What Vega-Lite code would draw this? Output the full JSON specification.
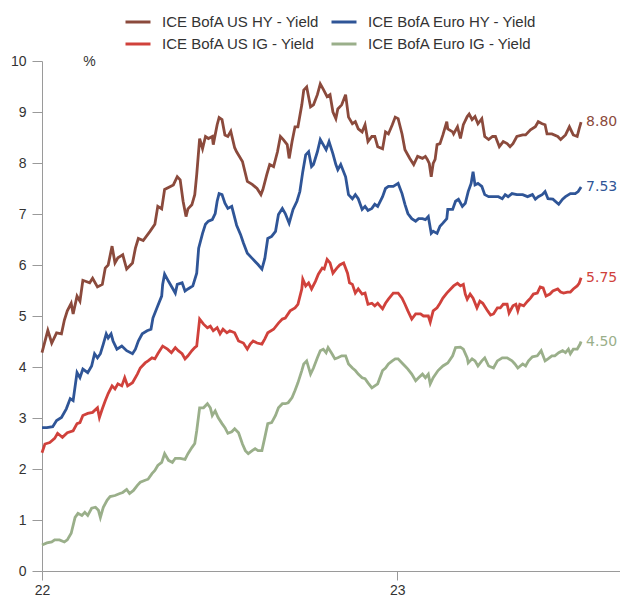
{
"$schema": "https://vega.github.io/schema/vega-lite/v6.json",
"width": 578, "height": 510,
"autosize": {"type": "none"},
"padding": {"left": 42, "top": 61, "right": 0, "bottom": 26},
"background": "white",
"config": {"view": {"stroke": null}, "font": "Liberation Sans"},
"data": {"values": [
{"s":"US HY","d":"2022-01-01","v":4.28},{"s":"US HY","d":"2022-01-07","v":4.72},{"s":"US HY","d":"2022-01-11","v":4.47},{"s":"US HY","d":"2022-01-16","v":4.67},{"s":"US HY","d":"2022-01-21","v":4.65},{"s":"US HY","d":"2022-01-24","v":4.92},{"s":"US HY","d":"2022-01-27","v":5.1},{"s":"US HY","d":"2022-01-31","v":5.25},{"s":"US HY","d":"2022-02-02","v":5.04},{"s":"US HY","d":"2022-02-06","v":5.39},{"s":"US HY","d":"2022-02-09","v":5.29},{"s":"US HY","d":"2022-02-12","v":5.7},{"s":"US HY","d":"2022-02-19","v":5.65},{"s":"US HY","d":"2022-02-22","v":5.74},{"s":"US HY","d":"2022-02-27","v":5.57},{"s":"US HY","d":"2022-03-04","v":5.62},{"s":"US HY","d":"2022-03-07","v":5.94},{"s":"US HY","d":"2022-03-10","v":6.0},{"s":"US HY","d":"2022-03-14","v":6.37},{"s":"US HY","d":"2022-03-17","v":6.04},{"s":"US HY","d":"2022-03-20","v":6.14},{"s":"US HY","d":"2022-03-25","v":6.2},{"s":"US HY","d":"2022-03-29","v":5.92},{"s":"US HY","d":"2022-04-04","v":6.04},{"s":"US HY","d":"2022-04-07","v":6.33},{"s":"US HY","d":"2022-04-10","v":6.52},{"s":"US HY","d":"2022-04-15","v":6.48},{"s":"US HY","d":"2022-04-22","v":6.66},{"s":"US HY","d":"2022-04-27","v":6.8},{"s":"US HY","d":"2022-04-30","v":7.15},{"s":"US HY","d":"2022-05-04","v":7.1},{"s":"US HY","d":"2022-05-07","v":7.48},{"s":"US HY","d":"2022-05-13","v":7.54},{"s":"US HY","d":"2022-05-16","v":7.57},{"s":"US HY","d":"2022-05-20","v":7.73},{"s":"US HY","d":"2022-05-23","v":7.67},{"s":"US HY","d":"2022-05-26","v":7.25},{"s":"US HY","d":"2022-05-29","v":6.95},{"s":"US HY","d":"2022-05-31","v":7.1},{"s":"US HY","d":"2022-06-04","v":7.18},{"s":"US HY","d":"2022-06-07","v":7.38},{"s":"US HY","d":"2022-06-09","v":7.77},{"s":"US HY","d":"2022-06-12","v":8.48},{"s":"US HY","d":"2022-06-15","v":8.28},{"s":"US HY","d":"2022-06-18","v":8.52},{"s":"US HY","d":"2022-06-21","v":8.48},{"s":"US HY","d":"2022-06-25","v":8.52},{"s":"US HY","d":"2022-06-26","v":8.36},{"s":"US HY","d":"2022-06-30","v":8.75},{"s":"US HY","d":"2022-07-02","v":8.89},{"s":"US HY","d":"2022-07-05","v":8.85},{"s":"US HY","d":"2022-07-08","v":8.55},{"s":"US HY","d":"2022-07-11","v":8.52},{"s":"US HY","d":"2022-07-14","v":8.62},{"s":"US HY","d":"2022-07-18","v":8.3},{"s":"US HY","d":"2022-07-20","v":8.22},{"s":"US HY","d":"2022-07-26","v":8.03},{"s":"US HY","d":"2022-07-31","v":7.64},{"s":"US HY","d":"2022-08-05","v":7.58},{"s":"US HY","d":"2022-08-10","v":7.5},{"s":"US HY","d":"2022-08-14","v":7.38},{"s":"US HY","d":"2022-08-16","v":7.48},{"s":"US HY","d":"2022-08-20","v":7.77},{"s":"US HY","d":"2022-08-23","v":7.97},{"s":"US HY","d":"2022-08-27","v":7.93},{"s":"US HY","d":"2022-08-31","v":8.22},{"s":"US HY","d":"2022-09-03","v":8.52},{"s":"US HY","d":"2022-09-06","v":8.46},{"s":"US HY","d":"2022-09-10","v":8.36},{"s":"US HY","d":"2022-09-12","v":8.09},{"s":"US HY","d":"2022-09-15","v":8.42},{"s":"US HY","d":"2022-09-18","v":8.71},{"s":"US HY","d":"2022-09-21","v":8.71},{"s":"US HY","d":"2022-09-25","v":9.14},{"s":"US HY","d":"2022-09-27","v":9.43},{"s":"US HY","d":"2022-09-30","v":9.49},{"s":"US HY","d":"2022-10-04","v":9.1},{"s":"US HY","d":"2022-10-07","v":9.14},{"s":"US HY","d":"2022-10-11","v":9.34},{"s":"US HY","d":"2022-10-14","v":9.55},{"s":"US HY","d":"2022-10-17","v":9.45},{"s":"US HY","d":"2022-10-21","v":9.3},{"s":"US HY","d":"2022-10-24","v":9.34},{"s":"US HY","d":"2022-10-27","v":9.0},{"s":"US HY","d":"2022-10-30","v":8.87},{"s":"US HY","d":"2022-11-01","v":9.06},{"s":"US HY","d":"2022-11-05","v":9.14},{"s":"US HY","d":"2022-11-09","v":9.34},{"s":"US HY","d":"2022-11-12","v":8.9},{"s":"US HY","d":"2022-11-16","v":8.77},{"s":"US HY","d":"2022-11-19","v":8.81},{"s":"US HY","d":"2022-11-22","v":8.67},{"s":"US HY","d":"2022-11-26","v":8.61},{"s":"US HY","d":"2022-11-29","v":8.75},{"s":"US HY","d":"2022-12-02","v":8.42},{"s":"US HY","d":"2022-12-06","v":8.52},{"s":"US HY","d":"2022-12-09","v":8.52},{"s":"US HY","d":"2022-12-12","v":8.32},{"s":"US HY","d":"2022-12-17","v":8.28},{"s":"US HY","d":"2022-12-20","v":8.61},{"s":"US HY","d":"2022-12-23","v":8.57},{"s":"US HY","d":"2022-12-27","v":8.75},{"s":"US HY","d":"2022-12-30","v":8.9},{"s":"US HY","d":"2023-01-02","v":8.87},{"s":"US HY","d":"2023-01-06","v":8.57},{"s":"US HY","d":"2023-01-09","v":8.26},{"s":"US HY","d":"2023-01-14","v":8.09},{"s":"US HY","d":"2023-01-18","v":7.97},{"s":"US HY","d":"2023-01-22","v":8.13},{"s":"US HY","d":"2023-01-27","v":8.09},{"s":"US HY","d":"2023-01-30","v":8.13},{"s":"US HY","d":"2023-02-01","v":8.07},{"s":"US HY","d":"2023-02-03","v":7.99},{"s":"US HY","d":"2023-02-05","v":7.73},{"s":"US HY","d":"2023-02-07","v":7.99},{"s":"US HY","d":"2023-02-09","v":8.07},{"s":"US HY","d":"2023-02-11","v":8.36},{"s":"US HY","d":"2023-02-14","v":8.38},{"s":"US HY","d":"2023-02-17","v":8.55},{"s":"US HY","d":"2023-02-21","v":8.81},{"s":"US HY","d":"2023-02-22","v":8.67},{"s":"US HY","d":"2023-02-27","v":8.61},{"s":"US HY","d":"2023-02-28","v":8.57},{"s":"US HY","d":"2023-03-04","v":8.71},{"s":"US HY","d":"2023-03-07","v":8.48},{"s":"US HY","d":"2023-03-10","v":8.75},{"s":"US HY","d":"2023-03-14","v":8.91},{"s":"US HY","d":"2023-03-16","v":8.96},{"s":"US HY","d":"2023-03-19","v":8.85},{"s":"US HY","d":"2023-03-22","v":8.91},{"s":"US HY","d":"2023-03-25","v":8.77},{"s":"US HY","d":"2023-03-29","v":8.87},{"s":"US HY","d":"2023-04-01","v":8.52},{"s":"US HY","d":"2023-04-05","v":8.46},{"s":"US HY","d":"2023-04-09","v":8.52},{"s":"US HY","d":"2023-04-12","v":8.52},{"s":"US HY","d":"2023-04-16","v":8.32},{"s":"US HY","d":"2023-04-20","v":8.42},{"s":"US HY","d":"2023-04-24","v":8.38},{"s":"US HY","d":"2023-04-27","v":8.32},{"s":"US HY","d":"2023-04-30","v":8.38},{"s":"US HY","d":"2023-05-04","v":8.52},{"s":"US HY","d":"2023-05-10","v":8.55},{"s":"US HY","d":"2023-05-13","v":8.55},{"s":"US HY","d":"2023-05-18","v":8.65},{"s":"US HY","d":"2023-05-23","v":8.71},{"s":"US HY","d":"2023-05-26","v":8.81},{"s":"US HY","d":"2023-05-30","v":8.77},{"s":"US HY","d":"2023-06-02","v":8.75},{"s":"US HY","d":"2023-06-04","v":8.57},{"s":"US HY","d":"2023-06-09","v":8.57},{"s":"US HY","d":"2023-06-15","v":8.52},{"s":"US HY","d":"2023-06-18","v":8.46},{"s":"US HY","d":"2023-06-23","v":8.55},{"s":"US HY","d":"2023-06-27","v":8.71},{"s":"US HY","d":"2023-07-01","v":8.55},{"s":"US HY","d":"2023-07-05","v":8.52},{"s":"US HY","d":"2023-07-07","v":8.67},{"s":"US HY","d":"2023-07-09","v":8.8},
{"s":"Euro HY","d":"2022-01-01","v":2.81},{"s":"Euro HY","d":"2022-01-06","v":2.81},{"s":"Euro HY","d":"2022-01-12","v":2.83},{"s":"Euro HY","d":"2022-01-16","v":2.95},{"s":"Euro HY","d":"2022-01-21","v":3.01},{"s":"Euro HY","d":"2022-01-26","v":3.18},{"s":"Euro HY","d":"2022-01-30","v":3.38},{"s":"Euro HY","d":"2022-02-02","v":3.34},{"s":"Euro HY","d":"2022-02-06","v":3.89},{"s":"Euro HY","d":"2022-02-09","v":3.79},{"s":"Euro HY","d":"2022-02-12","v":3.96},{"s":"Euro HY","d":"2022-02-17","v":3.89},{"s":"Euro HY","d":"2022-02-21","v":4.02},{"s":"Euro HY","d":"2022-02-24","v":4.26},{"s":"Euro HY","d":"2022-02-27","v":4.18},{"s":"Euro HY","d":"2022-03-02","v":4.26},{"s":"Euro HY","d":"2022-03-05","v":4.45},{"s":"Euro HY","d":"2022-03-08","v":4.65},{"s":"Euro HY","d":"2022-03-10","v":4.57},{"s":"Euro HY","d":"2022-03-13","v":4.65},{"s":"Euro HY","d":"2022-03-15","v":4.51},{"s":"Euro HY","d":"2022-03-19","v":4.35},{"s":"Euro HY","d":"2022-03-24","v":4.41},{"s":"Euro HY","d":"2022-03-29","v":4.32},{"s":"Euro HY","d":"2022-04-04","v":4.26},{"s":"Euro HY","d":"2022-04-07","v":4.35},{"s":"Euro HY","d":"2022-04-10","v":4.51},{"s":"Euro HY","d":"2022-04-14","v":4.65},{"s":"Euro HY","d":"2022-04-19","v":4.71},{"s":"Euro HY","d":"2022-04-23","v":4.74},{"s":"Euro HY","d":"2022-04-25","v":4.96},{"s":"Euro HY","d":"2022-04-30","v":5.2},{"s":"Euro HY","d":"2022-05-04","v":5.39},{"s":"Euro HY","d":"2022-05-05","v":5.62},{"s":"Euro HY","d":"2022-05-07","v":5.82},{"s":"Euro HY","d":"2022-05-11","v":5.68},{"s":"Euro HY","d":"2022-05-15","v":5.55},{"s":"Euro HY","d":"2022-05-18","v":5.45},{"s":"Euro HY","d":"2022-05-20","v":5.62},{"s":"Euro HY","d":"2022-05-25","v":5.65},{"s":"Euro HY","d":"2022-05-28","v":5.49},{"s":"Euro HY","d":"2022-05-31","v":5.53},{"s":"Euro HY","d":"2022-06-05","v":5.59},{"s":"Euro HY","d":"2022-06-09","v":5.84},{"s":"Euro HY","d":"2022-06-11","v":6.33},{"s":"Euro HY","d":"2022-06-15","v":6.62},{"s":"Euro HY","d":"2022-06-18","v":6.8},{"s":"Euro HY","d":"2022-06-21","v":6.86},{"s":"Euro HY","d":"2022-06-25","v":6.89},{"s":"Euro HY","d":"2022-06-28","v":7.01},{"s":"Euro HY","d":"2022-06-30","v":7.25},{"s":"Euro HY","d":"2022-07-02","v":7.4},{"s":"Euro HY","d":"2022-07-05","v":7.38},{"s":"Euro HY","d":"2022-07-08","v":7.21},{"s":"Euro HY","d":"2022-07-11","v":7.11},{"s":"Euro HY","d":"2022-07-15","v":7.15},{"s":"Euro HY","d":"2022-07-20","v":6.78},{"s":"Euro HY","d":"2022-07-24","v":6.6},{"s":"Euro HY","d":"2022-07-27","v":6.43},{"s":"Euro HY","d":"2022-07-31","v":6.23},{"s":"Euro HY","d":"2022-08-05","v":6.13},{"s":"Euro HY","d":"2022-08-08","v":6.07},{"s":"Euro HY","d":"2022-08-11","v":6.01},{"s":"Euro HY","d":"2022-08-15","v":5.92},{"s":"Euro HY","d":"2022-08-18","v":6.13},{"s":"Euro HY","d":"2022-08-21","v":6.52},{"s":"Euro HY","d":"2022-08-25","v":6.56},{"s":"Euro HY","d":"2022-08-29","v":6.66},{"s":"Euro HY","d":"2022-09-01","v":6.99},{"s":"Euro HY","d":"2022-09-05","v":7.11},{"s":"Euro HY","d":"2022-09-08","v":7.01},{"s":"Euro HY","d":"2022-09-12","v":6.82},{"s":"Euro HY","d":"2022-09-16","v":7.09},{"s":"Euro HY","d":"2022-09-20","v":7.25},{"s":"Euro HY","d":"2022-09-23","v":7.44},{"s":"Euro HY","d":"2022-09-26","v":7.83},{"s":"Euro HY","d":"2022-09-29","v":8.16},{"s":"Euro HY","d":"2022-10-02","v":8.22},{"s":"Euro HY","d":"2022-10-05","v":7.93},{"s":"Euro HY","d":"2022-10-07","v":7.97},{"s":"Euro HY","d":"2022-10-11","v":8.22},{"s":"Euro HY","d":"2022-10-14","v":8.46},{"s":"Euro HY","d":"2022-10-17","v":8.36},{"s":"Euro HY","d":"2022-10-20","v":8.26},{"s":"Euro HY","d":"2022-10-23","v":8.42},{"s":"Euro HY","d":"2022-10-27","v":8.18},{"s":"Euro HY","d":"2022-10-30","v":7.97},{"s":"Euro HY","d":"2022-11-01","v":7.87},{"s":"Euro HY","d":"2022-11-04","v":7.97},{"s":"Euro HY","d":"2022-11-09","v":7.73},{"s":"Euro HY","d":"2022-11-12","v":7.38},{"s":"Euro HY","d":"2022-11-16","v":7.3},{"s":"Euro HY","d":"2022-11-19","v":7.38},{"s":"Euro HY","d":"2022-11-22","v":7.3},{"s":"Euro HY","d":"2022-11-26","v":7.09},{"s":"Euro HY","d":"2022-11-29","v":7.15},{"s":"Euro HY","d":"2022-12-02","v":7.07},{"s":"Euro HY","d":"2022-12-06","v":7.11},{"s":"Euro HY","d":"2022-12-09","v":7.19},{"s":"Euro HY","d":"2022-12-12","v":7.15},{"s":"Euro HY","d":"2022-12-17","v":7.34},{"s":"Euro HY","d":"2022-12-20","v":7.5},{"s":"Euro HY","d":"2022-12-23","v":7.54},{"s":"Euro HY","d":"2022-12-28","v":7.54},{"s":"Euro HY","d":"2023-01-02","v":7.6},{"s":"Euro HY","d":"2023-01-06","v":7.4},{"s":"Euro HY","d":"2023-01-09","v":7.19},{"s":"Euro HY","d":"2023-01-12","v":7.01},{"s":"Euro HY","d":"2023-01-16","v":6.91},{"s":"Euro HY","d":"2023-01-20","v":6.86},{"s":"Euro HY","d":"2023-01-23","v":6.91},{"s":"Euro HY","d":"2023-01-27","v":6.91},{"s":"Euro HY","d":"2023-01-30","v":6.89},{"s":"Euro HY","d":"2023-02-02","v":6.95},{"s":"Euro HY","d":"2023-02-05","v":6.62},{"s":"Euro HY","d":"2023-02-07","v":6.66},{"s":"Euro HY","d":"2023-02-11","v":6.62},{"s":"Euro HY","d":"2023-02-14","v":6.76},{"s":"Euro HY","d":"2023-02-17","v":6.82},{"s":"Euro HY","d":"2023-02-21","v":6.91},{"s":"Euro HY","d":"2023-02-22","v":7.09},{"s":"Euro HY","d":"2023-02-27","v":7.09},{"s":"Euro HY","d":"2023-03-02","v":7.25},{"s":"Euro HY","d":"2023-03-05","v":7.29},{"s":"Euro HY","d":"2023-03-09","v":7.15},{"s":"Euro HY","d":"2023-03-12","v":7.21},{"s":"Euro HY","d":"2023-03-15","v":7.44},{"s":"Euro HY","d":"2023-03-18","v":7.6},{"s":"Euro HY","d":"2023-03-20","v":7.83},{"s":"Euro HY","d":"2023-03-22","v":7.57},{"s":"Euro HY","d":"2023-03-25","v":7.6},{"s":"Euro HY","d":"2023-03-29","v":7.54},{"s":"Euro HY","d":"2023-04-01","v":7.38},{"s":"Euro HY","d":"2023-04-05","v":7.34},{"s":"Euro HY","d":"2023-04-10","v":7.34},{"s":"Euro HY","d":"2023-04-15","v":7.34},{"s":"Euro HY","d":"2023-04-19","v":7.3},{"s":"Euro HY","d":"2023-04-22","v":7.38},{"s":"Euro HY","d":"2023-04-25","v":7.34},{"s":"Euro HY","d":"2023-04-29","v":7.4},{"s":"Euro HY","d":"2023-05-04","v":7.38},{"s":"Euro HY","d":"2023-05-10","v":7.38},{"s":"Euro HY","d":"2023-05-15","v":7.34},{"s":"Euro HY","d":"2023-05-20","v":7.38},{"s":"Euro HY","d":"2023-05-23","v":7.29},{"s":"Euro HY","d":"2023-05-26","v":7.34},{"s":"Euro HY","d":"2023-05-30","v":7.38},{"s":"Euro HY","d":"2023-06-02","v":7.44},{"s":"Euro HY","d":"2023-06-05","v":7.3},{"s":"Euro HY","d":"2023-06-10","v":7.29},{"s":"Euro HY","d":"2023-06-16","v":7.19},{"s":"Euro HY","d":"2023-06-20","v":7.29},{"s":"Euro HY","d":"2023-06-23","v":7.34},{"s":"Euro HY","d":"2023-06-28","v":7.4},{"s":"Euro HY","d":"2023-07-03","v":7.4},{"s":"Euro HY","d":"2023-07-06","v":7.44},{"s":"Euro HY","d":"2023-07-09","v":7.53},
{"s":"US IG","d":"2022-01-01","v":2.32},{"s":"US IG","d":"2022-01-04","v":2.49},{"s":"US IG","d":"2022-01-09","v":2.52},{"s":"US IG","d":"2022-01-14","v":2.6},{"s":"US IG","d":"2022-01-17","v":2.7},{"s":"US IG","d":"2022-01-22","v":2.62},{"s":"US IG","d":"2022-01-27","v":2.71},{"s":"US IG","d":"2022-02-02","v":2.75},{"s":"US IG","d":"2022-02-06","v":2.89},{"s":"US IG","d":"2022-02-09","v":2.91},{"s":"US IG","d":"2022-02-12","v":3.05},{"s":"US IG","d":"2022-02-17","v":3.09},{"s":"US IG","d":"2022-02-22","v":3.11},{"s":"US IG","d":"2022-02-27","v":3.2},{"s":"US IG","d":"2022-03-01","v":3.01},{"s":"US IG","d":"2022-03-04","v":3.18},{"s":"US IG","d":"2022-03-07","v":3.34},{"s":"US IG","d":"2022-03-10","v":3.48},{"s":"US IG","d":"2022-03-14","v":3.63},{"s":"US IG","d":"2022-03-17","v":3.57},{"s":"US IG","d":"2022-03-20","v":3.67},{"s":"US IG","d":"2022-03-24","v":3.63},{"s":"US IG","d":"2022-03-27","v":3.79},{"s":"US IG","d":"2022-03-30","v":3.63},{"s":"US IG","d":"2022-04-04","v":3.69},{"s":"US IG","d":"2022-04-09","v":3.86},{"s":"US IG","d":"2022-04-12","v":3.98},{"s":"US IG","d":"2022-04-17","v":4.08},{"s":"US IG","d":"2022-04-20","v":4.12},{"s":"US IG","d":"2022-04-24","v":4.18},{"s":"US IG","d":"2022-04-27","v":4.16},{"s":"US IG","d":"2022-04-30","v":4.26},{"s":"US IG","d":"2022-05-05","v":4.41},{"s":"US IG","d":"2022-05-10","v":4.35},{"s":"US IG","d":"2022-05-14","v":4.28},{"s":"US IG","d":"2022-05-18","v":4.38},{"s":"US IG","d":"2022-05-21","v":4.32},{"s":"US IG","d":"2022-05-25","v":4.26},{"s":"US IG","d":"2022-05-28","v":4.16},{"s":"US IG","d":"2022-05-31","v":4.22},{"s":"US IG","d":"2022-06-04","v":4.32},{"s":"US IG","d":"2022-06-07","v":4.38},{"s":"US IG","d":"2022-06-09","v":4.41},{"s":"US IG","d":"2022-06-12","v":4.94},{"s":"US IG","d":"2022-06-16","v":4.84},{"s":"US IG","d":"2022-06-20","v":4.77},{"s":"US IG","d":"2022-06-23","v":4.8},{"s":"US IG","d":"2022-06-26","v":4.71},{"s":"US IG","d":"2022-06-30","v":4.77},{"s":"US IG","d":"2022-07-03","v":4.65},{"s":"US IG","d":"2022-07-06","v":4.74},{"s":"US IG","d":"2022-07-10","v":4.67},{"s":"US IG","d":"2022-07-13","v":4.71},{"s":"US IG","d":"2022-07-18","v":4.67},{"s":"US IG","d":"2022-07-22","v":4.51},{"s":"US IG","d":"2022-07-27","v":4.47},{"s":"US IG","d":"2022-07-31","v":4.35},{"s":"US IG","d":"2022-08-03","v":4.45},{"s":"US IG","d":"2022-08-06","v":4.51},{"s":"US IG","d":"2022-08-10","v":4.47},{"s":"US IG","d":"2022-08-15","v":4.45},{"s":"US IG","d":"2022-08-18","v":4.55},{"s":"US IG","d":"2022-08-21","v":4.67},{"s":"US IG","d":"2022-08-27","v":4.74},{"s":"US IG","d":"2022-09-01","v":4.86},{"s":"US IG","d":"2022-09-05","v":4.94},{"s":"US IG","d":"2022-09-08","v":4.96},{"s":"US IG","d":"2022-09-13","v":5.1},{"s":"US IG","d":"2022-09-18","v":5.16},{"s":"US IG","d":"2022-09-21","v":5.23},{"s":"US IG","d":"2022-09-25","v":5.53},{"s":"US IG","d":"2022-09-26","v":5.72},{"s":"US IG","d":"2022-09-29","v":5.59},{"s":"US IG","d":"2022-10-02","v":5.65},{"s":"US IG","d":"2022-10-05","v":5.53},{"s":"US IG","d":"2022-10-09","v":5.68},{"s":"US IG","d":"2022-10-12","v":5.82},{"s":"US IG","d":"2022-10-16","v":5.94},{"s":"US IG","d":"2022-10-18","v":5.92},{"s":"US IG","d":"2022-10-21","v":6.11},{"s":"US IG","d":"2022-10-24","v":6.04},{"s":"US IG","d":"2022-10-27","v":5.84},{"s":"US IG","d":"2022-10-31","v":5.94},{"s":"US IG","d":"2022-11-03","v":6.0},{"s":"US IG","d":"2022-11-07","v":6.04},{"s":"US IG","d":"2022-11-11","v":5.84},{"s":"US IG","d":"2022-11-13","v":5.65},{"s":"US IG","d":"2022-11-16","v":5.62},{"s":"US IG","d":"2022-11-19","v":5.45},{"s":"US IG","d":"2022-11-22","v":5.53},{"s":"US IG","d":"2022-11-26","v":5.43},{"s":"US IG","d":"2022-11-29","v":5.45},{"s":"US IG","d":"2022-12-02","v":5.23},{"s":"US IG","d":"2022-12-06","v":5.25},{"s":"US IG","d":"2022-12-09","v":5.2},{"s":"US IG","d":"2022-12-12","v":5.25},{"s":"US IG","d":"2022-12-17","v":5.14},{"s":"US IG","d":"2022-12-20","v":5.25},{"s":"US IG","d":"2022-12-23","v":5.33},{"s":"US IG","d":"2022-12-28","v":5.45},{"s":"US IG","d":"2023-01-02","v":5.45},{"s":"US IG","d":"2023-01-06","v":5.35},{"s":"US IG","d":"2023-01-09","v":5.23},{"s":"US IG","d":"2023-01-12","v":5.1},{"s":"US IG","d":"2023-01-16","v":4.94},{"s":"US IG","d":"2023-01-20","v":5.04},{"s":"US IG","d":"2023-01-25","v":5.04},{"s":"US IG","d":"2023-01-28","v":5.0},{"s":"US IG","d":"2023-02-02","v":5.0},{"s":"US IG","d":"2023-02-04","v":4.88},{"s":"US IG","d":"2023-02-07","v":5.1},{"s":"US IG","d":"2023-02-11","v":5.16},{"s":"US IG","d":"2023-02-14","v":5.25},{"s":"US IG","d":"2023-02-17","v":5.35},{"s":"US IG","d":"2023-02-21","v":5.45},{"s":"US IG","d":"2023-02-25","v":5.53},{"s":"US IG","d":"2023-02-28","v":5.59},{"s":"US IG","d":"2023-03-04","v":5.64},{"s":"US IG","d":"2023-03-07","v":5.59},{"s":"US IG","d":"2023-03-10","v":5.62},{"s":"US IG","d":"2023-03-12","v":5.43},{"s":"US IG","d":"2023-03-14","v":5.33},{"s":"US IG","d":"2023-03-17","v":5.43},{"s":"US IG","d":"2023-03-20","v":5.35},{"s":"US IG","d":"2023-03-24","v":5.16},{"s":"US IG","d":"2023-03-27","v":5.29},{"s":"US IG","d":"2023-03-30","v":5.25},{"s":"US IG","d":"2023-04-04","v":5.1},{"s":"US IG","d":"2023-04-07","v":5.02},{"s":"US IG","d":"2023-04-10","v":5.04},{"s":"US IG","d":"2023-04-14","v":5.16},{"s":"US IG","d":"2023-04-17","v":5.16},{"s":"US IG","d":"2023-04-20","v":5.23},{"s":"US IG","d":"2023-04-24","v":5.23},{"s":"US IG","d":"2023-04-26","v":5.06},{"s":"US IG","d":"2023-04-30","v":5.2},{"s":"US IG","d":"2023-05-03","v":5.23},{"s":"US IG","d":"2023-05-05","v":5.1},{"s":"US IG","d":"2023-05-07","v":5.23},{"s":"US IG","d":"2023-05-11","v":5.2},{"s":"US IG","d":"2023-05-15","v":5.29},{"s":"US IG","d":"2023-05-18","v":5.35},{"s":"US IG","d":"2023-05-21","v":5.43},{"s":"US IG","d":"2023-05-25","v":5.45},{"s":"US IG","d":"2023-05-28","v":5.57},{"s":"US IG","d":"2023-05-31","v":5.55},{"s":"US IG","d":"2023-06-03","v":5.39},{"s":"US IG","d":"2023-06-07","v":5.43},{"s":"US IG","d":"2023-06-10","v":5.49},{"s":"US IG","d":"2023-06-15","v":5.53},{"s":"US IG","d":"2023-06-18","v":5.47},{"s":"US IG","d":"2023-06-21","v":5.45},{"s":"US IG","d":"2023-06-25","v":5.47},{"s":"US IG","d":"2023-06-28","v":5.47},{"s":"US IG","d":"2023-07-01","v":5.53},{"s":"US IG","d":"2023-07-05","v":5.59},{"s":"US IG","d":"2023-07-07","v":5.64},{"s":"US IG","d":"2023-07-09","v":5.75},
{"s":"Euro IG","d":"2022-01-01","v":0.51},{"s":"Euro IG","d":"2022-01-06","v":0.55},{"s":"Euro IG","d":"2022-01-11","v":0.57},{"s":"Euro IG","d":"2022-01-14","v":0.61},{"s":"Euro IG","d":"2022-01-19","v":0.61},{"s":"Euro IG","d":"2022-01-24","v":0.57},{"s":"Euro IG","d":"2022-01-27","v":0.61},{"s":"Euro IG","d":"2022-01-31","v":0.74},{"s":"Euro IG","d":"2022-02-04","v":1.05},{"s":"Euro IG","d":"2022-02-07","v":1.13},{"s":"Euro IG","d":"2022-02-11","v":1.09},{"s":"Euro IG","d":"2022-02-14","v":1.15},{"s":"Euro IG","d":"2022-02-17","v":1.09},{"s":"Euro IG","d":"2022-02-21","v":1.23},{"s":"Euro IG","d":"2022-02-25","v":1.25},{"s":"Euro IG","d":"2022-02-28","v":1.19},{"s":"Euro IG","d":"2022-03-02","v":1.05},{"s":"Euro IG","d":"2022-03-05","v":1.25},{"s":"Euro IG","d":"2022-03-09","v":1.39},{"s":"Euro IG","d":"2022-03-12","v":1.46},{"s":"Euro IG","d":"2022-03-17","v":1.48},{"s":"Euro IG","d":"2022-03-22","v":1.52},{"s":"Euro IG","d":"2022-03-25","v":1.54},{"s":"Euro IG","d":"2022-03-29","v":1.6},{"s":"Euro IG","d":"2022-04-01","v":1.52},{"s":"Euro IG","d":"2022-04-05","v":1.58},{"s":"Euro IG","d":"2022-04-09","v":1.68},{"s":"Euro IG","d":"2022-04-12","v":1.74},{"s":"Euro IG","d":"2022-04-17","v":1.78},{"s":"Euro IG","d":"2022-04-20","v":1.8},{"s":"Euro IG","d":"2022-04-24","v":1.91},{"s":"Euro IG","d":"2022-04-27","v":1.97},{"s":"Euro IG","d":"2022-04-30","v":2.07},{"s":"Euro IG","d":"2022-05-04","v":2.13},{"s":"Euro IG","d":"2022-05-07","v":2.3},{"s":"Euro IG","d":"2022-05-11","v":2.17},{"s":"Euro IG","d":"2022-05-15","v":2.13},{"s":"Euro IG","d":"2022-05-18","v":2.21},{"s":"Euro IG","d":"2022-05-23","v":2.21},{"s":"Euro IG","d":"2022-05-28","v":2.19},{"s":"Euro IG","d":"2022-05-31","v":2.3},{"s":"Euro IG","d":"2022-06-04","v":2.42},{"s":"Euro IG","d":"2022-06-07","v":2.5},{"s":"Euro IG","d":"2022-06-09","v":2.75},{"s":"Euro IG","d":"2022-06-12","v":3.2},{"s":"Euro IG","d":"2022-06-16","v":3.2},{"s":"Euro IG","d":"2022-06-20","v":3.28},{"s":"Euro IG","d":"2022-06-23","v":3.2},{"s":"Euro IG","d":"2022-06-25","v":3.05},{"s":"Euro IG","d":"2022-06-28","v":3.14},{"s":"Euro IG","d":"2022-07-01","v":3.01},{"s":"Euro IG","d":"2022-07-05","v":2.89},{"s":"Euro IG","d":"2022-07-08","v":2.81},{"s":"Euro IG","d":"2022-07-11","v":2.7},{"s":"Euro IG","d":"2022-07-15","v":2.73},{"s":"Euro IG","d":"2022-07-18","v":2.79},{"s":"Euro IG","d":"2022-07-22","v":2.71},{"s":"Euro IG","d":"2022-07-26","v":2.49},{"s":"Euro IG","d":"2022-07-29","v":2.36},{"s":"Euro IG","d":"2022-08-01","v":2.3},{"s":"Euro IG","d":"2022-08-05","v":2.36},{"s":"Euro IG","d":"2022-08-08","v":2.4},{"s":"Euro IG","d":"2022-08-11","v":2.36},{"s":"Euro IG","d":"2022-08-15","v":2.36},{"s":"Euro IG","d":"2022-08-18","v":2.62},{"s":"Euro IG","d":"2022-08-21","v":2.89},{"s":"Euro IG","d":"2022-08-25","v":2.91},{"s":"Euro IG","d":"2022-08-29","v":3.05},{"s":"Euro IG","d":"2022-09-01","v":3.2},{"s":"Euro IG","d":"2022-09-05","v":3.28},{"s":"Euro IG","d":"2022-09-08","v":3.28},{"s":"Euro IG","d":"2022-09-11","v":3.3},{"s":"Euro IG","d":"2022-09-15","v":3.4},{"s":"Euro IG","d":"2022-09-18","v":3.54},{"s":"Euro IG","d":"2022-09-21","v":3.69},{"s":"Euro IG","d":"2022-09-25","v":3.93},{"s":"Euro IG","d":"2022-09-27","v":4.06},{"s":"Euro IG","d":"2022-09-30","v":4.12},{"s":"Euro IG","d":"2022-10-04","v":3.86},{"s":"Euro IG","d":"2022-10-07","v":3.98},{"s":"Euro IG","d":"2022-10-11","v":4.18},{"s":"Euro IG","d":"2022-10-14","v":4.32},{"s":"Euro IG","d":"2022-10-17","v":4.35},{"s":"Euro IG","d":"2022-10-20","v":4.28},{"s":"Euro IG","d":"2022-10-22","v":4.38},{"s":"Euro IG","d":"2022-10-26","v":4.26},{"s":"Euro IG","d":"2022-10-29","v":4.16},{"s":"Euro IG","d":"2022-11-01","v":4.18},{"s":"Euro IG","d":"2022-11-05","v":4.22},{"s":"Euro IG","d":"2022-11-09","v":4.22},{"s":"Euro IG","d":"2022-11-12","v":4.06},{"s":"Euro IG","d":"2022-11-16","v":3.98},{"s":"Euro IG","d":"2022-11-19","v":3.93},{"s":"Euro IG","d":"2022-11-22","v":3.86},{"s":"Euro IG","d":"2022-11-26","v":3.79},{"s":"Euro IG","d":"2022-11-29","v":3.77},{"s":"Euro IG","d":"2022-12-02","v":3.69},{"s":"Euro IG","d":"2022-12-06","v":3.59},{"s":"Euro IG","d":"2022-12-09","v":3.63},{"s":"Euro IG","d":"2022-12-12","v":3.67},{"s":"Euro IG","d":"2022-12-17","v":3.93},{"s":"Euro IG","d":"2022-12-20","v":3.98},{"s":"Euro IG","d":"2022-12-23","v":4.06},{"s":"Euro IG","d":"2022-12-27","v":4.12},{"s":"Euro IG","d":"2022-12-30","v":4.16},{"s":"Euro IG","d":"2023-01-02","v":4.16},{"s":"Euro IG","d":"2023-01-06","v":4.08},{"s":"Euro IG","d":"2023-01-09","v":4.02},{"s":"Euro IG","d":"2023-01-12","v":3.96},{"s":"Euro IG","d":"2023-01-16","v":3.86},{"s":"Euro IG","d":"2023-01-20","v":3.73},{"s":"Euro IG","d":"2023-01-23","v":3.79},{"s":"Euro IG","d":"2023-01-27","v":3.86},{"s":"Euro IG","d":"2023-01-30","v":3.79},{"s":"Euro IG","d":"2023-02-02","v":3.86},{"s":"Euro IG","d":"2023-02-04","v":3.67},{"s":"Euro IG","d":"2023-02-07","v":3.79},{"s":"Euro IG","d":"2023-02-12","v":3.93},{"s":"Euro IG","d":"2023-02-17","v":4.02},{"s":"Euro IG","d":"2023-02-22","v":4.08},{"s":"Euro IG","d":"2023-02-27","v":4.22},{"s":"Euro IG","d":"2023-03-02","v":4.38},{"s":"Euro IG","d":"2023-03-07","v":4.39},{"s":"Euro IG","d":"2023-03-10","v":4.35},{"s":"Euro IG","d":"2023-03-14","v":4.18},{"s":"Euro IG","d":"2023-03-15","v":4.08},{"s":"Euro IG","d":"2023-03-19","v":4.16},{"s":"Euro IG","d":"2023-03-22","v":4.12},{"s":"Euro IG","d":"2023-03-25","v":4.02},{"s":"Euro IG","d":"2023-03-29","v":4.12},{"s":"Euro IG","d":"2023-04-01","v":4.18},{"s":"Euro IG","d":"2023-04-05","v":4.02},{"s":"Euro IG","d":"2023-04-10","v":3.98},{"s":"Euro IG","d":"2023-04-14","v":4.12},{"s":"Euro IG","d":"2023-04-19","v":4.18},{"s":"Euro IG","d":"2023-04-24","v":4.18},{"s":"Euro IG","d":"2023-04-29","v":4.12},{"s":"Euro IG","d":"2023-05-02","v":4.06},{"s":"Euro IG","d":"2023-05-05","v":3.98},{"s":"Euro IG","d":"2023-05-10","v":4.06},{"s":"Euro IG","d":"2023-05-13","v":4.02},{"s":"Euro IG","d":"2023-05-16","v":4.12},{"s":"Euro IG","d":"2023-05-20","v":4.2},{"s":"Euro IG","d":"2023-05-25","v":4.22},{"s":"Euro IG","d":"2023-05-29","v":4.32},{"s":"Euro IG","d":"2023-06-02","v":4.12},{"s":"Euro IG","d":"2023-06-05","v":4.16},{"s":"Euro IG","d":"2023-06-09","v":4.22},{"s":"Euro IG","d":"2023-06-12","v":4.22},{"s":"Euro IG","d":"2023-06-16","v":4.28},{"s":"Euro IG","d":"2023-06-20","v":4.32},{"s":"Euro IG","d":"2023-06-23","v":4.28},{"s":"Euro IG","d":"2023-06-26","v":4.35},{"s":"Euro IG","d":"2023-06-28","v":4.26},{"s":"Euro IG","d":"2023-07-01","v":4.35},{"s":"Euro IG","d":"2023-07-05","v":4.35},{"s":"Euro IG","d":"2023-07-08","v":4.45},{"s":"Euro IG","d":"2023-07-09","v":4.5}
]},
"encoding": {
  "x": {"field": "d", "type": "temporal",
    "scale": {"type": "utc", "domain": [{"year": 2022, "month": 1, "date": 1, "utc": true}, {"year": 2023, "month": 8, "date": 18, "utc": true}]},
    "axis": {"values": [{"year": 2022, "month": 1, "date": 1, "utc": true}, {"year": 2023, "month": 1, "date": 1, "utc": true}], "format": "%y", "title": null, "grid": false, "tickSize": 9, "labelPadding": 3, "labelFontSize": 14, "labelColor": "#333333", "domainColor": "#9a9a9a", "tickColor": "#9a9a9a", "labelFlush": false}},
  "y": {"field": "v", "type": "quantitative",
    "scale": {"domain": [0, 10], "nice": false, "zero": true},
    "axis": {"values": [0,1,2,3,4,5,6,7,8,9,10], "grid": false, "tickSize": 10, "labelPadding": 6, "labelFontSize": 14, "labelColor": "#333333", "domainColor": "#9a9a9a", "tickColor": "#9a9a9a", "title": "%", "titleAngle": 0, "titleX": 47, "titleY": 0, "titleAlign": "center", "titleBaseline": "middle", "titleFontWeight": "normal", "titleFontSize": 14, "titleColor": "#333333"}},
  "color": {"field": "s", "type": "nominal",
    "scale": {"domain": ["US HY", "Euro HY", "US IG", "Euro IG"], "range": ["#8b4a3c", "#2f5597", "#d0413b", "#9aaf8a"]}}
},
"layer": [
  {"mark": {"type": "line", "strokeWidth": 2.8},
   "encoding": {"color": {"field": "s", "type": "nominal",
     "scale": {"domain": ["US HY", "Euro HY", "US IG", "Euro IG"], "range": ["#8b4a3c", "#2f5597", "#d0413b", "#9aaf8a"]},
     "legend": {"orient": "none", "legendX": 82, "legendY": -53, "direction": "horizontal", "columns": 2, "title": null, "symbolType": "stroke", "symbolSize": 625, "symbolStrokeWidth": 3, "labelFontSize": 15, "labelColor": "#333333", "labelExpr": "'ICE BofA ' + datum.label + ' - Yield'", "columnPadding": 5, "rowPadding": -4, "labelOffset": 10, "padding": 0, "labelLimit": 300}}}},
  {"transform": [{"joinaggregate": [{"op": "max", "field": "d", "as": "md"}], "groupby": ["s"]}, {"filter": "time(datum.d) == time(datum.md)"}],
   "mark": {"type": "text", "align": "left", "baseline": "middle", "dx": 5, "font": "DejaVu Sans", "fontSize": 14},
   "encoding": {"text": {"field": "v", "type": "quantitative", "format": ".2f"},
     "color": {"field": "s", "type": "nominal", "legend": null}}}
]
}
